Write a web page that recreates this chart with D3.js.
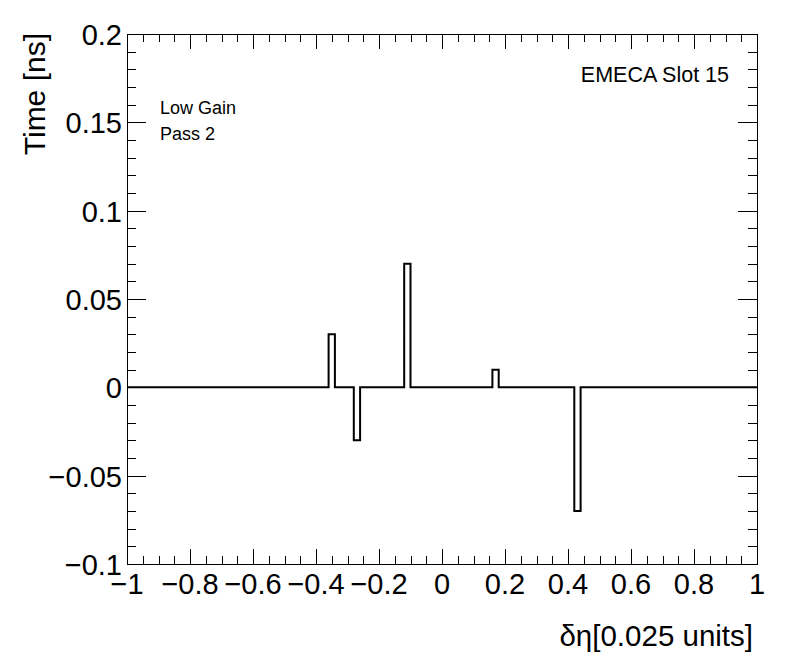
<!DOCTYPE html>
<html>
<head>
<meta charset="utf-8">
<script src="https://cdn.jsdelivr.net/npm/d3@7"></script>
<style>
  html, body { margin: 0; padding: 0; background: #fff; }
  svg { display: block; }
  text { font-family: "Liberation Sans", Arial, Helvetica, sans-serif; fill: #000; }
</style>
</head>
<body>
<svg id="chart" width="796" height="672"></svg>
<script>
// ---- Data ----
const binLow = -1, binWidth = 0.02, nBins = 100;
const binValues = [
  0,0,0,0,0,0,0,0,0,0,
  0,0,0,0,0,0,0,0,0,0,
  0,0,0,0,0,0,0,0,0,0,
  0,0,0.03,0,0,0,-0.03,0,0,0,
  0,0,0,0,0.07,0,0,0,0,0,
  0,0,0,0,0,0,0,0,0.01,0,
  0,0,0,0,0,0,0,0,0,0,
  0,-0.07,0,0,0,0,0,0,0,0,
  0,0,0,0,0,0,0,0,0,0,
  0,0,0,0,0,0,0,0,0,0
];
const xMajorTicks = [-1,-0.8,-0.6,-0.4,-0.2,0,0.2,0.4,0.6,0.8,1];
const xTickLabels = ["\u22121","\u22120.8","\u22120.6","\u22120.4","\u22120.2","0","0.2","0.4","0.6","0.8","1"];
const yMajorTicks = [-0.1,-0.05,0,0.05,0.1,0.15,0.2];
const yTickLabels = ["\u22120.1","\u22120.05","0","0.05","0.1","0.15","0.2"];
const xTitle = "\u03b4\u03b7[0.025 units]";
const yTitle = "Time [ns]";
const labelTopRight = "EMECA Slot 15";
const labelLines = ["Low Gain","Pass 2"];

// ---- Layout ----
const L = 127, R = 757, T = 34, B = 564;
const svg = d3.select("#chart");
const x = d3.scaleLinear().domain([-1, 1]).range([L, R]);
const y = d3.scaleLinear().domain([-0.1, 0.2]).range([B, T]);

// minor ticks
const xMinor = d3.range(0, 41).map(i => -1 + i * 0.05);
const yMinor = d3.range(0, 31).map(i => -0.1 + i * 0.01);

const g = svg.append("g");
const xMajLen = 15, xMinLen = 8, yMajLen = 19, yMinLen = 9;

function tickLines(vals, len, isX) {
  vals.forEach(v => {
    if (isX) {
      const px = Math.round(x(v)) + 0.5;
      g.append("line").attr("x1", px).attr("x2", px).attr("y1", B).attr("y2", B - len).attr("stroke", "#000");
      g.append("line").attr("x1", px).attr("x2", px).attr("y1", T).attr("y2", T + len).attr("stroke", "#000");
    } else {
      const py = Math.round(y(v)) + 0.5;
      g.append("line").attr("y1", py).attr("y2", py).attr("x1", L).attr("x2", L + len).attr("stroke", "#000");
      g.append("line").attr("y1", py).attr("y2", py).attr("x1", R).attr("x2", R - len).attr("stroke", "#000");
    }
  });
}
tickLines(xMinor, xMinLen, true);
tickLines(xMajorTicks, xMajLen, true);
tickLines(yMinor, yMinLen, false);
tickLines(yMajorTicks, yMajLen, false);

// histogram step line
const pts = [];
binValues.forEach((v, i) => {
  const x0 = binLow + i * binWidth, x1 = x0 + binWidth;
  pts.push([x(x0), y(v)]);
  pts.push([x(x1), y(v)]);
});
svg.append("path")
  .attr("d", d3.line()(pts))
  .attr("fill", "none")
  .attr("stroke", "#000")
  .attr("stroke-width", 2);

// frame
svg.append("rect").attr("x", L + 0.5).attr("y", T + 0.5).attr("width", R - L).attr("height", B - T)
  .attr("fill", "none").attr("stroke", "#000").attr("stroke-width", 1);

// tick labels
const tickFont = 29;
xMajorTicks.forEach((v, i) => {
  svg.append("text").attr("x", x(v)).attr("y", 594)
    .attr("text-anchor", "middle").attr("font-size", tickFont).text(xTickLabels[i]);
});
yMajorTicks.forEach((v, i) => {
  svg.append("text").attr("x", 122).attr("y", y(v) + 11)
    .attr("text-anchor", "end").attr("font-size", tickFont).text(yTickLabels[i]);
});

// axis titles
svg.append("text").attr("x", 753).attr("y", 646).attr("text-anchor", "end")
  .attr("font-size", 29.5).text(xTitle);
svg.append("text").attr("transform", "translate(45,33) rotate(-90)").attr("text-anchor", "end")
  .attr("font-size", 30).text(yTitle);

// annotations
svg.append("text").attr("x", 729).attr("y", 82).attr("text-anchor", "end")
  .attr("font-size", 21.5).text(labelTopRight);
labelLines.forEach((t, i) => {
  svg.append("text").attr("x", 160).attr("y", 114 + i * 26)
    .attr("font-size", 18).text(t);
});
</script>
</body>
</html>
